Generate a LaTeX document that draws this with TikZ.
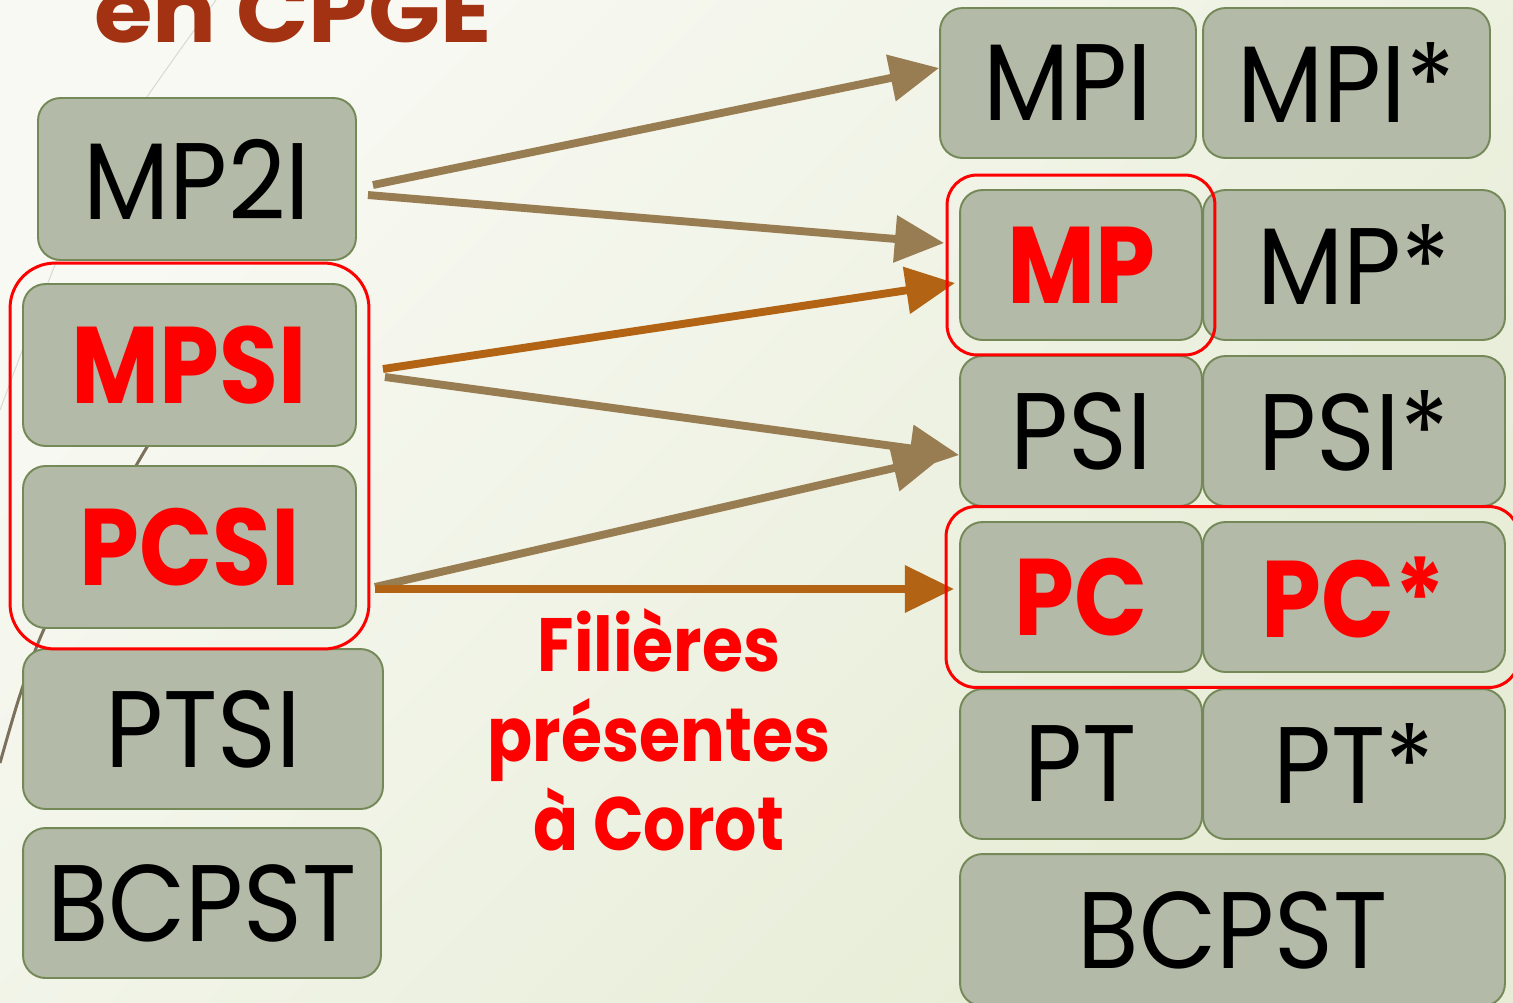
\documentclass[tikz,border=0pt]{standalone}
\usepackage{fontspec}
\setmainfont{Poppins}[UprightFeatures={FakeStretch=0.92}, BoldFeatures={FakeStretch=0.88}]
\newfontfamily\titrefont{Poppins}[UprightFeatures={FakeStretch=1.08}, BoldFeatures={FakeStretch=1.08}]
\usetikzlibrary{arrows.meta,calc,fit}

\definecolor{fond1}{RGB}{248,249,243}
\definecolor{fond2}{RGB}{230,236,213}
\definecolor{caisse}{RGB}{179,186,167}
\definecolor{bord}{RGB}{117,137,88}
\definecolor{titre}{RGB}{163,50,18}
\definecolor{fleche}{RGB}{153,125,82}
\definecolor{flecheor}{RGB}{178,100,20}
\definecolor{trait}{RGB}{122,112,92}

\tikzset{
  filiere/.style={draw=bord, fill=caisse, line width=1.1pt, rounded corners=0.45cm, inner sep=0pt, font=\fontsize{62}{70}\selectfont},
  rouge/.style={text=red, font=\fontsize{62}{70}\selectfont\bfseries},
  cadre/.style={draw=red, line width=1.7pt, rounded corners=0.6cm, inner sep=0pt},
  lien/.style={line width=4.5pt, draw=fleche, -{Triangle[length=28pt,width=26pt]}},
}

\begin{document}
\begin{tikzpicture}[x=0.02cm, y=-0.02cm]

\clip (0,0) rectangle (1513,1002);
\shade[top color=fond1, bottom color=fond2, shading angle=45] (0,0) rectangle (1513,1002);

% traits du fond
\draw[gray!30, line width=0.6pt] plot[smooth] coordinates {(216,0) (147,97) (95,180) (57,260) (0,410)};
\draw[trait, line width=1.7pt] plot[smooth] coordinates {(180,395) (147,447) (95,537) (45,627) (20,695) (0,763)};

\node[anchor=base west, text=titre, font=\fontsize{50}{60}\titrefont\bfseries] (titre) at (88,42) {en CPGE};

% premiere annee
\node[filiere, minimum width=6.36cm, minimum height=3.24cm] (mp2i) at (197,179) {MP2I};
\node[filiere, rouge, minimum width=6.66cm, minimum height=3.24cm] (mpsi) at (189.5,365) {MPSI};
\node[filiere, rouge, minimum width=6.66cm, minimum height=3.24cm] (pcsi) at (189.5,547) {PCSI};
\node[filiere, minimum width=7.2cm, minimum height=3.2cm] (ptsi) at (203,729) {PTSI};
\node[filiere, minimum width=7.16cm, minimum height=3cm] (bcpstA) at (202,903) {BCPST};

% deuxieme annee
\node[filiere, minimum width=5.12cm, minimum height=3cm] (mpi) at (1068,83) {MPI};
\node[filiere, minimum width=5.74cm, minimum height=3cm] (mpie) at (1346.5,83) {MPI*};
\node[filiere, rouge, minimum width=4.84cm, minimum height=3cm] (mp) at (1081,265) {MP};
\node[filiere, minimum width=6.04cm, minimum height=3cm] (mpe) at (1354,265) {MP*};
\node[filiere, minimum width=4.84cm, minimum height=3cm] (psi) at (1081,431) {PSI};
\node[filiere, minimum width=6.04cm, minimum height=3cm] (psie) at (1354,431) {PSI*};
\node[filiere, rouge, minimum width=4.84cm, minimum height=3cm] (pc) at (1081,597) {PC};
\node[filiere, rouge, minimum width=6.04cm, minimum height=3cm] (pce) at (1354,597) {PC*};
\node[filiere, minimum width=4.84cm, minimum height=3cm] (pt) at (1081,764) {PT};
\node[filiere, minimum width=6.04cm, minimum height=3cm] (pte) at (1354,764) {PT*};
\node[filiere, minimum width=10.9cm, minimum height=3.04cm] (bcpstB) at (1232.5,930) {BCPST};

% fleches
\draw[lien] ($(mp2i.east)+(16,6)$) -- ($(mpi.west)+(0,-15)$);
\draw[lien] ($(mp2i.east)+(11,16)$) -- ($(mp.west)+(-15,-22)$);
\draw[lien, draw=flecheor] ($(mpsi.east)+(26,4)$) -- ($(mp.west)+(-4,18)$);
\draw[lien] ($(mpsi.east)+(28,12)$) -- ($(psi.west)+(0,24)$);
\draw[lien] ($(pcsi.east)+(18,40)$) -- ($(psi.west)+(-17,26)$);
\draw[lien, draw=flecheor] ($(pcsi.east)+(18,42)$) -- ($(pc.west)+(-5,-8)$);

\node[align=center, text=red, font=\fontsize{43}{51}\selectfont\bfseries] (legende) at (659,730) {Filières\\présentes\\à Corot};

% cadres rouges
\node[cadre, rounded corners=0.9cm, inner xsep=0.24cm, inner ysep=0.4cm, fit=(mpsi)(pcsi)] (cadreA) {};
\node[cadre, inner xsep=0.24cm, inner ysep=0.28cm, fit=(mp)] (cadreB) {};
\node[cadre, inner xsep=0.26cm, inner ysep=0.29cm, fit=(pc)(pce)] (cadreC) {};

\end{tikzpicture}
\end{document}
